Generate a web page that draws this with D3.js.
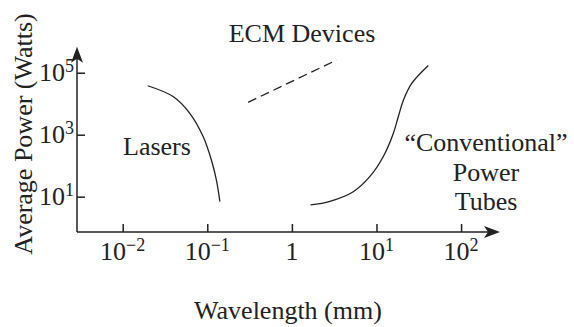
<!DOCTYPE html>
<html lang="en">
<head>
<meta charset="UTF-8">
<title>Average Power vs Wavelength</title>
<script src="https://cdnjs.cloudflare.com/ajax/libs/d3/7.8.5/d3.min.js"></script>
<style>
    body { margin: 0; padding: 0; background: #fff; }
    svg { display: block; }
    text { font-family: "Liberation Serif", "Times New Roman", serif; fill: #222; }
    .axis path, .axis line { stroke: #222; stroke-width: 1.5px; }
    .curve { fill: none; stroke: #222; stroke-width: 1.3px; }
</style>
</head>
<body>
<div id="chart"></div>
<script>
// wavelength ticks (mm) and their exponent labels
const xTicks = [0.01, 0.1, 1, 10, 100];
const xExp = ["\u22122", "\u22121", "", "1", "2"];
// power ticks (W)
const yTicks = [10, 1000, 100000];
const yExp = ["1", "3", "5"];

// [wavelength mm, power W]
const lasers = [[0.0198, 38000], [0.0394, 17000], [0.0621, 4900], [0.0893, 870], [0.112, 150], [0.128, 35], [0.141, 6.9]];
const tubes = [[1.66, 5.4], [2.82, 7.1], [5.32, 14.5], [8.37, 45], [12.0, 195], [15.8, 1100], [18.1, 3800], [20.8, 12900], [26.1, 45000], [41.0, 170000]];
const ecm = [[0.304, 11100], [3.38, 257000]];

const W = 574, H = 327;
const svg = d3.select("#chart").append("svg").attr("width", W).attr("height", H);

const x = d3.scaleLog().domain([Math.pow(10, -2.54), Math.pow(10, 2.46)]).range([77, 500]);
const y = d3.scaleLog().domain([Math.pow(10, -0.14), Math.pow(10, 5.84)]).range([232, 46.7]);
const x0 = x.range()[0], y0 = y.range()[0];

// x axis
const gx = svg.append("g").attr("class", "axis")
    .attr("transform", `translate(0,${y0})`)
    .call(d3.axisBottom(x).tickValues(xTicks).tickSizeInner(-8).tickSizeOuter(0).tickFormat(""));
gx.selectAll(".tick text").remove();
gx.select(".domain").attr("d", `M${x0},0H${x.range()[1] - 6}`);

// y axis
const gy = svg.append("g").attr("class", "axis")
    .attr("transform", `translate(${x0},0)`)
    .call(d3.axisLeft(y).tickValues(yTicks).tickSizeInner(-8).tickSizeOuter(0).tickFormat(""));
gy.selectAll(".tick text").remove();
gy.select(".domain").attr("d", `M0,${y0}V${y.range()[1] + 6}`);

// arrowheads
const xe = x.range()[1], ye = y.range()[1];
svg.append("path")
    .attr("d", `M${xe},${y0}L${xe - 16},${y0 - 6}L${xe - 12},${y0}L${xe - 16},${y0 + 6}Z`)
    .attr("fill", "#222");
svg.append("path")
    .attr("d", `M${x0},${ye}L${x0 - 6},${ye + 16}L${x0},${ye + 12}L${x0 + 6},${ye + 16}Z`)
    .attr("fill", "#222");

// tick labels with superscripts
xTicks.forEach((v, i) => {
    const t = svg.append("text")
        .attr("x", x(v)).attr("y", y0 + 28)
        .attr("text-anchor", "middle")
        .attr("font-size", 26);
    if (xExp[i] === "") {
        t.text("1");
    } else {
        t.append("tspan").text("10");
        t.append("tspan").attr("dy", -9).attr("font-size", 18).text(xExp[i]);
    }
});
yTicks.forEach((v, i) => {
    const t = svg.append("text")
        .attr("x", x0 - 3).attr("y", y(v) + 8.5)
        .attr("text-anchor", "end")
        .attr("font-size", 26);
    t.append("tspan").text("10");
    t.append("tspan").attr("dy", -9).attr("font-size", 18).text(yExp[i]);
});

// curves
const line = d3.line().x(d => x(d[0])).y(d => y(d[1])).curve(d3.curveCatmullRom);
svg.append("path").attr("class", "curve").attr("d", line(lasers));
svg.append("path").attr("class", "curve").attr("d", line(tubes));
svg.append("path").attr("class", "curve").attr("d", d3.line().x(d => x(d[0])).y(d => y(d[1]))(ecm))
    .attr("stroke-dasharray", "9,5");

// annotations
svg.append("text").attr("x", 302).attr("y", 42).attr("text-anchor", "middle")
    .attr("font-size", 26).text("ECM Devices");
svg.append("text").attr("x", 123).attr("y", 155)
    .attr("font-size", 26).text("Lasers");
["\u201cConventional\u201d", "Power", "Tubes"].forEach((s, i) => {
    svg.append("text").attr("x", 486).attr("y", 151 + i * 29.5).attr("text-anchor", "middle")
        .attr("font-size", 26).text(s);
});

// axis titles
svg.append("text").attr("x", 288).attr("y", 319).attr("text-anchor", "middle")
    .attr("font-size", 26).text("Wavelength (mm)");
svg.append("text").attr("transform", "translate(32,134) rotate(-90)").attr("text-anchor", "middle")
    .attr("font-size", 26).text("Average Power (Watts)");
</script>
</body>
</html>
